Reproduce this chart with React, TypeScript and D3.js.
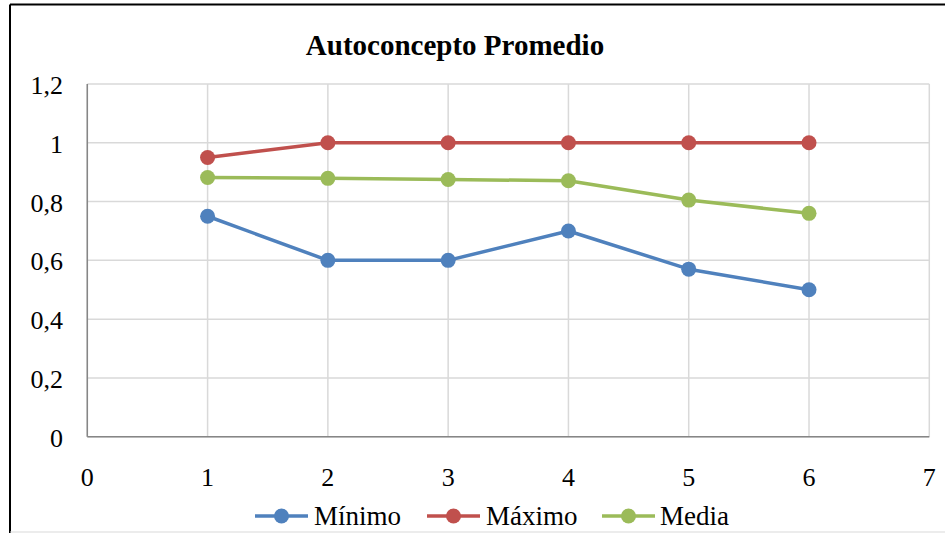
import React from "react";
import * as d3 from "d3";

const xCategories = [1, 2, 3, 4, 5, 6];
const minimo = [0.75, 0.6, 0.6, 0.7, 0.57, 0.5];
const maximo = [0.95, 1, 1, 1, 1, 1];
const media = [0.882, 0.879, 0.875, 0.871, 0.805, 0.76];
const xTicks = [0, 1, 2, 3, 4, 5, 6, 7];
const yTicks = [0, 0.2, 0.4, 0.6, 0.8, 1, 1.2];
const seriesNames = ["Mínimo", "Máximo", "Media"];
const seriesColors = ["#4f81bd", "#c0504d", "#9bbb59"];

const W = 945;
const H = 533;
const plot = { left: 87.3, right: 929.3, top: 84, bottom: 436.7 };
const FONT = "Liberation Serif, Times New Roman, DejaVu Serif, serif";

export default function App() {
  const x = d3.scaleLinear().domain([0, 7]).range([plot.left, plot.right]);
  const y = d3.scaleLinear().domain([0, 1.2]).range([plot.bottom, plot.top]);
  const line = d3
    .line<number>()
    .x((_, i) => x(xCategories[i]))
    .y((d) => y(d));
  const fmt = (v: number) => String(+v.toFixed(1)).replace(".", ",");
  const allSeries = [minimo, maximo, media];

  const legendItems = [
    { lx: 255, tx: 314 },
    { lx: 427, tx: 486 },
    { lx: 602, tx: 660 },
  ];

  return (
    <svg
      width={W}
      height={H}
      style={{ position: "absolute", left: 0, top: 0, background: "#fff", fontFamily: FONT }}
    >
      <rect x={0} y={0} width={W} height={H} fill="#fff" />
      {/* chart frame */}
      <line x1={10} y1={4.5} x2={W} y2={4.5} stroke="#000" strokeWidth={2} />
      <line x1={10} y1={4.5} x2={10} y2={H} stroke="#000" strokeWidth={2} />
      <line x1={10} y1={532} x2={W} y2={532} stroke="#d9d9d9" strokeWidth={1} />

      <text
        x={455}
        y={55}
        textAnchor="middle"
        fontSize={29}
        fontWeight="bold"
        fill="#000"
        style={{ fontFamily: FONT }}
      >
        Autoconcepto Promedio
      </text>

      {/* gridlines */}
      {yTicks.map((t) => (
        <line
          key={"gy" + t}
          x1={plot.left}
          x2={plot.right}
          y1={y(t)}
          y2={y(t)}
          stroke="#d9d9d9"
          strokeWidth={1.5}
        />
      ))}
      {xTicks.map((t) => (
        <line
          key={"gx" + t}
          x1={x(t)}
          x2={x(t)}
          y1={plot.top}
          y2={plot.bottom}
          stroke="#d9d9d9"
          strokeWidth={1.5}
        />
      ))}
      {/* axes */}
      <line x1={plot.left} x2={plot.left} y1={plot.top} y2={plot.bottom} stroke="#868686" strokeWidth={1.5} />
      <line x1={plot.left} x2={plot.right} y1={plot.bottom} y2={plot.bottom} stroke="#868686" strokeWidth={1.5} />

      {yTicks.map((t) => (
        <text key={"ly" + t} x={63} y={y(t) + 10} textAnchor="end" fontSize={26} fill="#000" style={{ fontFamily: FONT }}>
          {fmt(t)}
        </text>
      ))}
      {xTicks.map((t) => (
        <text key={"lx" + t} x={x(t)} y={486} textAnchor="middle" fontSize={26} fill="#000" style={{ fontFamily: FONT }}>
          {t}
        </text>
      ))}

      {allSeries.map((s, k) => (
        <g key={"s" + k}>
          <path d={line(s) || ""} fill="none" stroke={seriesColors[k]} strokeWidth={3.5} strokeLinejoin="round" />
          {s.map((v, i) => (
            <circle key={i} cx={x(xCategories[i])} cy={y(v)} r={7.5} fill={seriesColors[k]} />
          ))}
        </g>
      ))}

      {legendItems.map((it, k) => (
        <g key={"lg" + k}>
          <line x1={it.lx} x2={it.lx + 53} y1={516} y2={516} stroke={seriesColors[k]} strokeWidth={3.5} />
          <circle cx={it.lx + 26.5} cy={516} r={7.5} fill={seriesColors[k]} />
          <text x={it.tx} y={525} fontSize={27} fill="#000" style={{ fontFamily: FONT }}>
            {seriesNames[k]}
          </text>
        </g>
      ))}
    </svg>
  );
}
